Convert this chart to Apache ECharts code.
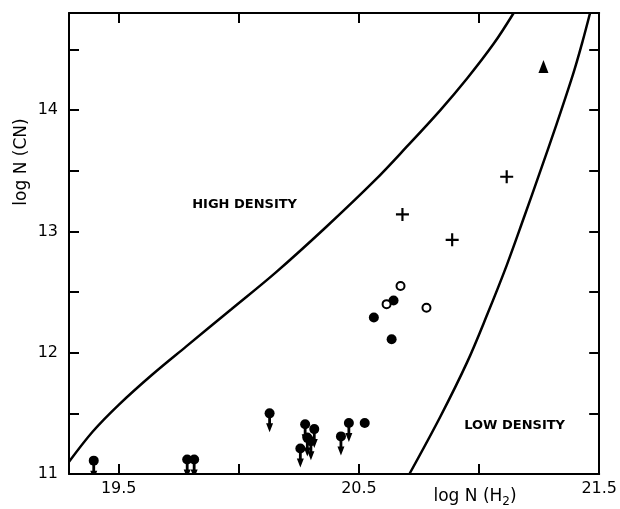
<!DOCTYPE html>
<html>
<head>
<meta charset="utf-8">
<script src="https://cdn.jsdelivr.net/npm/echarts@6/dist/echarts.min.js"></script>
<style>
html,body{margin:0;padding:0;background:#fff;}
#chart{width:620px;height:509px;}
</style>
</head>
<body>
<div id="chart"></div>
<script>
// ---- data (log N(H2), log N(CN)) ----
const xTicks = [19.5, 20, 20.5, 21, 21.5];
const xTickLabels = [19.5, 20.5, 21.5];
const yTicks = [11, 11.5, 12, 12.5, 13, 13.5, 14, 14.5];
const yTickLabels = [11, 12, 13, 14];

// boundary curves
const highDensityCurve = [
  [19.293, 11.10], [19.392, 11.35], [19.50, 11.57], [19.64, 11.82],
  [19.78, 12.05], [19.97, 12.36], [20.153, 12.66], [20.36, 13.03],
  [20.566, 13.42], [20.70, 13.70], [20.839, 14.00], [20.95, 14.26],
  [21.062, 14.55], [21.144, 14.80]
];
const lowDensityCurve = [
  [20.710, 11.00], [20.838, 11.47], [20.950, 11.92], [21.033, 12.31],
  [21.115, 12.72], [21.186, 13.11], [21.252, 13.48], [21.322, 13.88],
  [21.392, 14.30], [21.430, 14.56], [21.462, 14.80]
];

const filledCircles = [
  [20.644, 12.43], [20.562, 12.29], [20.636, 12.11], [20.524, 11.42]
];
const openCircles = [
  [20.673, 12.55], [20.615, 12.40], [20.781, 12.37]
];
const upperLimits = [
  [19.396, 11.11], [19.785, 11.12], [19.814, 11.12], [20.128, 11.50],
  [20.276, 11.41], [20.314, 11.37], [20.285, 11.30], [20.300, 11.27],
  [20.256, 11.21], [20.458, 11.42], [20.425, 11.31]
];
const crosses = [
  [20.681, 13.14], [20.888, 12.93], [21.115, 13.45]
];
const triangles = [
  [21.268, 14.36]
];
const regionLabels = [
  { name: 'HIGH DENSITY', value: [20.024, 13.22] },
  { name: 'LOW DENSITY', value: [21.148, 11.40] }
];

const FONT = 'DejaVu Sans';
const chart = echarts.init(document.getElementById('chart'), null, { renderer: 'canvas' });

const frameLine = { show: true, lineStyle: { color: '#000', width: 2 } };
const tickIn = (vals) => ({ show: true, inside: true, length: 10, customValues: vals, lineStyle: { color: '#000', width: 2 } });
const solid = { color: '#000', opacity: 1 };

const option = {
  backgroundColor: '#fff',
  animation: false,
  grid: { left: 69, right: 17, top: 13, bottom: 35, containLabel: false },
  xAxis: [
    {
      type: 'value', min: 19.293, max: 21.5, position: 'bottom',
      axisLine: frameLine, axisTick: tickIn(xTicks), splitLine: { show: false },
      axisLabel: {
        customValues: xTickLabels, margin: 7, color: '#000', fontFamily: FONT, fontSize: 16,
        formatter: v => v.toFixed(1)
      }
    },
    {
      type: 'value', min: 19.293, max: 21.5, position: 'top',
      axisLine: frameLine, axisTick: tickIn(xTicks), splitLine: { show: false },
      axisLabel: { show: false }
    }
  ],
  yAxis: [
    {
      type: 'value', min: 11, max: 14.8, position: 'left',
      axisLine: frameLine, axisTick: tickIn(yTicks), splitLine: { show: false },
      axisLabel: {
        customValues: yTickLabels, margin: 11, color: '#000', fontFamily: FONT, fontSize: 16,
        formatter: v => String(v)
      }
    },
    {
      type: 'value', min: 11, max: 14.8, position: 'right',
      axisLine: frameLine, axisTick: tickIn(yTicks), splitLine: { show: false },
      axisLabel: { show: false }
    }
  ],
  graphic: [
    {
      type: 'text', x: 22, y: 162, rotation: Math.PI / 2,
      style: { text: 'log N (CN)', fontFamily: FONT, fontSize: 17, fill: '#000', align: 'center', verticalAlign: 'middle' }
    },
    {
      type: 'text', x: 475, y: 497,
      style: {
        text: 'log N (H{sub|2})', fontFamily: FONT, fontSize: 17, fill: '#000', align: 'center', verticalAlign: 'middle',
        rich: { sub: { fontFamily: FONT, fontSize: 12, padding: [9, 0, 0, 0], fill: '#000' } }
      }
    }
  ],
  series: [
    {
      type: 'line', data: highDensityCurve, smooth: 0.35, showSymbol: false, clip: true,
      lineStyle: { color: '#000', width: 2.5 }, silent: true
    },
    {
      type: 'line', data: lowDensityCurve, smooth: 0.35, showSymbol: false, clip: true,
      lineStyle: { color: '#000', width: 2.5 }, silent: true
    },
    {
      type: 'scatter', data: filledCircles, symbol: 'circle', symbolSize: 10,
      itemStyle: solid
    },
    {
      type: 'scatter', data: openCircles, symbol: 'circle', symbolSize: 8,
      itemStyle: { color: '#fff', borderColor: '#000', borderWidth: 2, opacity: 1 }
    },
    {
      type: 'scatter', data: crosses, symbolSize: 13,
      symbol: 'path://M5,0L7,0L7,5L12,5L12,7L7,7L7,12L5,12L5,7L0,7L0,5L5,5Z',
      itemStyle: solid
    },
    {
      type: 'scatter', data: triangles, symbol: 'triangle', symbolSize: [10, 13],
      itemStyle: solid
    },
    {
      type: 'custom', data: upperLimits, clip: true,
      renderItem: function (params, api) {
        const p = api.coord([api.value(0), api.value(1)]);
        const x = p[0], y = p[1];
        return {
          type: 'group',
          children: [
            { type: 'circle', shape: { cx: x, cy: y, r: 5 }, style: { fill: '#000' } },
            {
              type: 'polygon',
              shape: { points: [
                [x - 1.4, y + 3], [x + 1.4, y + 3], [x + 1.4, y + 10], [x + 3.5, y + 10],
                [x, y + 19], [x - 3.5, y + 10], [x - 1.4, y + 10]
              ] },
              style: { fill: '#000' }
            }
          ]
        };
      }
    },
    {
      type: 'scatter', data: regionLabels, symbolSize: 0, silent: true,
      itemStyle: { opacity: 1 },
      label: {
        show: true, position: 'inside', formatter: p => p.name,
        fontFamily: FONT, fontWeight: 'bold', fontSize: 13, color: '#000', opacity: 1
      }
    }
  ]
};
chart.setOption(option);
</script>
</body>
</html>
